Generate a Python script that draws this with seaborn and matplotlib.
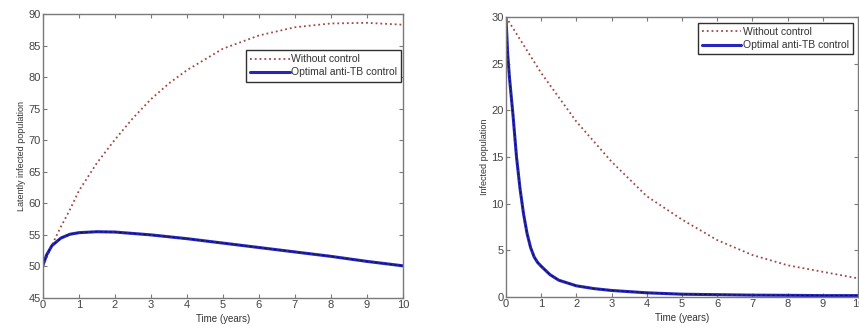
import matplotlib
matplotlib.use("Agg")
import matplotlib.pyplot as plt
import seaborn as sns
import pandas as pd

sns.set_style("ticks")
plt.rcParams['font.family'] = ['Liberation Sans', 'DejaVu Sans']

# latently infected population (left panel)
t_latent_nc = [0, 0.25, 0.5, 0.75, 1, 1.5, 2, 2.5, 3, 3.5, 4, 5, 6, 7, 8, 9, 10]
latent_no_control = [50, 53.4, 56.3, 59.0, 62.0, 66.4, 70.1, 73.5, 76.5, 79.0, 81.1, 84.5, 86.6, 87.9, 88.5, 88.6, 88.3]
t_latent_c = [0, 0.1, 0.25, 0.5, 0.75, 1, 1.5, 2, 3, 4, 5, 6, 7, 8, 9, 10]
latent_control = [50.2, 51.8, 53.3, 54.5, 55.1, 55.35, 55.5, 55.45, 55.0, 54.4, 53.7, 53.0, 52.3, 51.6, 50.8, 50.1]

# infected population (right panel)
t_inf_nc = [0, 1, 2, 3, 4, 5, 6, 7, 8, 9, 10]
infected_no_control = [30, 24.0, 18.8, 14.5, 10.8, 8.3, 6.1, 4.5, 3.4, 2.7, 2.0]
t_inf_c = [0, 0.05, 0.1, 0.2, 0.3, 0.4, 0.5, 0.6, 0.7, 0.8, 0.9, 1, 1.25, 1.5, 2, 2.5, 3, 4, 5, 6, 7, 8, 9, 10]
infected_control = [30, 26, 23.5, 19.5, 15, 11.6, 8.9, 6.8, 5.3, 4.3, 3.7, 3.3, 2.4, 1.8, 1.2, 0.9, 0.7, 0.45, 0.3, 0.25, 0.2, 0.18, 0.15, 0.15]

red = '#a04848'
blue = '#2626b8'
gray = '#7a7a7a'

fig = plt.figure(figsize=(8.59, 3.31), dpi=100)
ax1 = fig.add_axes([0.050, 0.0997, 0.419, 0.858])
ax2 = fig.add_axes([0.589, 0.1027, 0.4098, 0.846])


def draw(ax, t_nc, y_nc, t_c, y_c, ylim, yticks, ylabel, legend_anchor):
    sns.lineplot(x=t_nc, y=y_nc, ax=ax, color=red, linestyle=':', linewidth=1.3,
                 label='Without control')
    sns.lineplot(x=t_c, y=y_c, ax=ax, color=blue, linewidth=2.2,
                 label='Optimal anti-TB control')
    sns.lineplot(x=t_c, y=y_c, ax=ax, color='#101040', linewidth=0.7,
                 linestyle=(0, (3, 2)), legend=False)
    ax.set_xlim(0, 10)
    ax.set_ylim(*ylim)
    ax.set_xticks(range(0, 11))
    ax.set_yticks(yticks)
    ax.set_xlabel('Time (years)', fontsize=7, color='#333333', labelpad=3)
    ax.set_ylabel(ylabel, fontsize=6.5, color='#333333', labelpad=2)
    ax.tick_params(direction='in', top=True, right=True, length=3,
                   labelsize=8, colors='#444444', pad=1.5, color=gray)
    for s in ax.spines.values():
        s.set_visible(True)
        s.set_color(gray)
        s.set_linewidth(1.0)
    leg = ax.legend(loc='upper right', bbox_to_anchor=legend_anchor, fontsize=7.5,
                    handlelength=3.8, handletextpad=0.1, borderpad=0.4,
                    labelspacing=0.3, fancybox=False, framealpha=1,
                    borderaxespad=0)
    leg.get_frame().set_edgecolor('#303030')
    leg.get_frame().set_linewidth(1.0)
    for txt in leg.get_texts():
        txt.set_color('#333333')


draw(ax1, t_latent_nc, latent_no_control, t_latent_c, latent_control,
     (45, 90), range(45, 91, 5), 'Latently infected population', (0.995, 0.873))
draw(ax2, t_inf_nc, infected_no_control, t_inf_c, infected_control,
     (0, 30), range(0, 31, 5), 'Infected population', (0.985, 0.979))

fig.savefig('out.png', dpi=100)
